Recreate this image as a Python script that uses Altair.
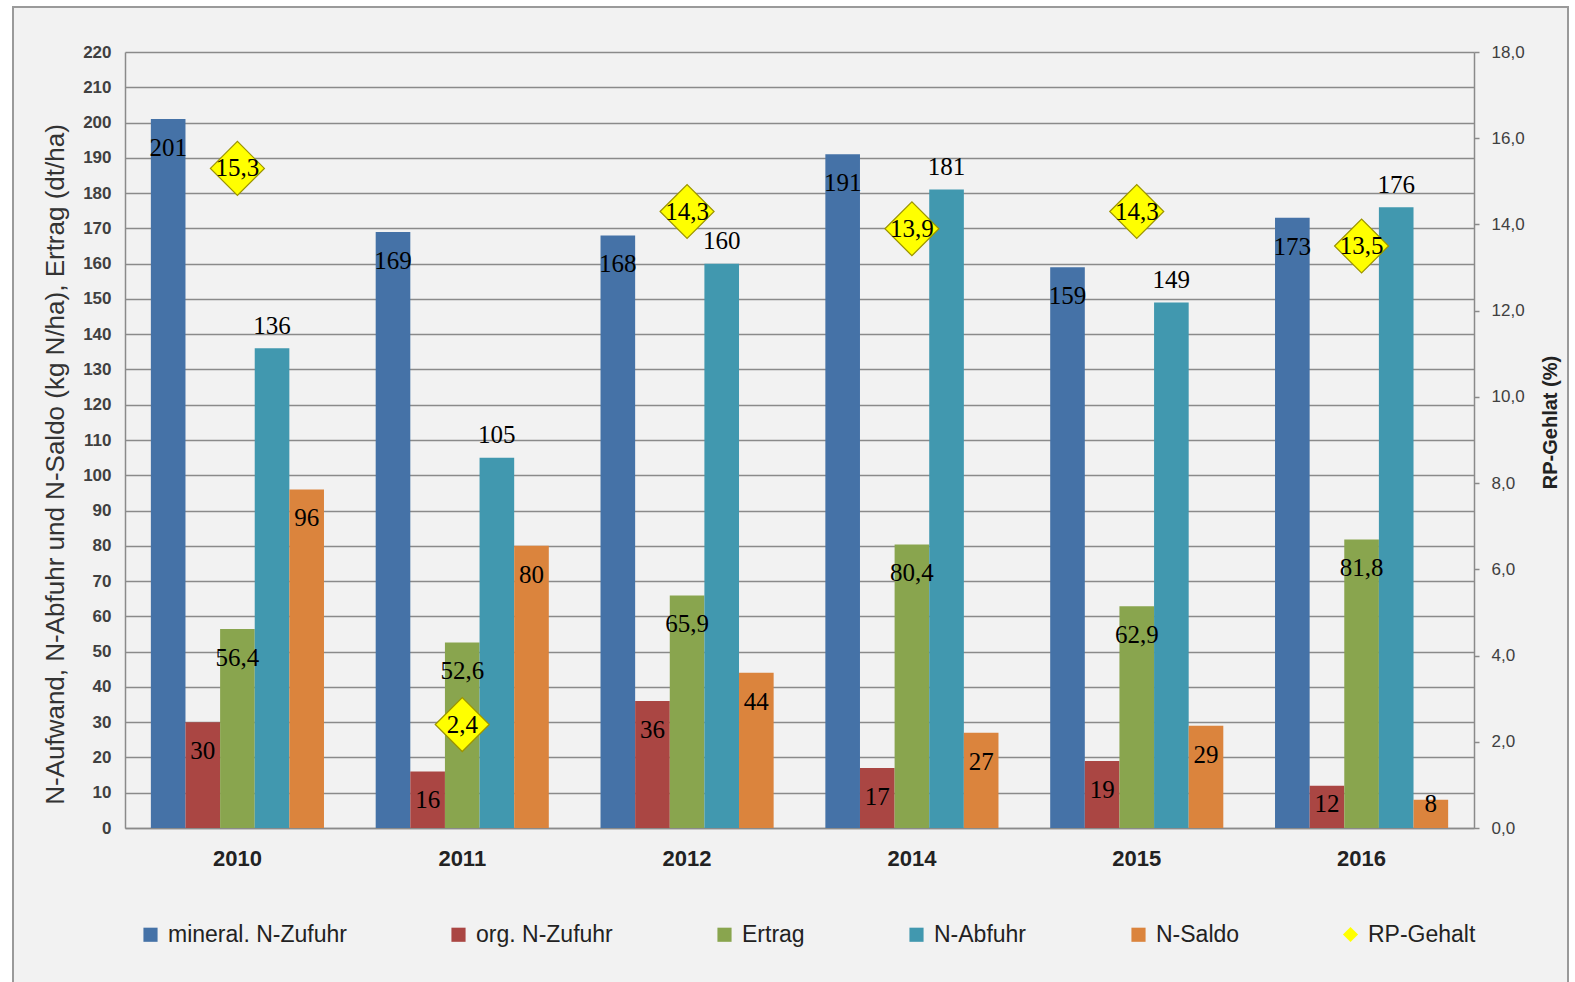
import altair as alt
import pandas as pd

years = ["2010", "2011", "2012", "2014", "2015", "2016"]
series = ["mineral. N-Zufuhr", "org. N-Zufuhr", "Ertrag", "N-Abfuhr", "N-Saldo"]
colors = ["#4572A7", "#AA4643", "#89A54E", "#4198AF", "#DB843D"]
mineral = [201, 169, 168, 191, 159, 173]
org = [30, 16, 36, 17, 19, 12]
ertrag = [56.4, 52.6, 65.9, 80.4, 62.9, 81.8]
abfuhr = [136, 105, 160, 181, 149, 176]
saldo = [96, 80, 44, 27, 29, 8]
rp = [15.3, 2.4, 14.3, 13.9, 14.3, 13.5]

left_ticks = list(range(0, 221, 10))
right_ticks = [0, 2, 4, 6, 8, 10, 12, 14, 16, 18]

rows = []
for s, vals in zip(series, [mineral, org, ertrag, abfuhr, saldo]):
    for y, v in zip(years, vals):
        rows.append({"year": y, "series": s, "value": v})
bars_df = pd.DataFrame(rows)
rp_df = pd.DataFrame({"year": years, "rp": rp, "lbl": ["RP-Gehalt"] * len(years)})

W, H = 1349, 776
GRID = "#8a8a8a"

xenc = alt.X("year:N", sort=years,
             scale=alt.Scale(paddingInner=0.23, paddingOuter=0.115),
             axis=alt.Axis(title=None, labelAngle=0, labelFont="Liberation Sans",
                           labelFontSize=22, labelFontWeight="bold", labelColor="#222222",
                           labelPadding=20, ticks=False, domainColor=GRID,
                           domainWidth=1.5, grid=False))
xoff = alt.XOffset("series:N", sort=series, scale=alt.Scale(paddingInner=0, paddingOuter=0))

left_scale = alt.Scale(domain=[0, 220], nice=False)
left_axis = alt.Axis(orient="left", values=left_ticks, grid=True, gridColor=GRID,
                     gridWidth=1.5, ticks=False, domainColor=GRID, domainWidth=1.5,
                     labelFont="Liberation Sans", labelFontSize=17, labelOverlap=False,
                     labelFontWeight="bold", labelColor="#404040", labelPadding=14,
                     title="N-Aufwand, N-Abfuhr und N-Saldo (kg N/ha), Ertrag (dt/ha)",
                     titleFont="Liberation Sans", titleFontSize=26,
                     titleFontWeight="normal", titleColor="#333333",
                     titleX=-70, titleY=412, titleAngle=270,
                     titleAlign="center", titleBaseline="middle")

# decorative white margins and outer chart border (background is the chart's gray)
margins = pd.DataFrame({
    "x0": [-125, -125, 1443], "x1": [1450, -112, 1450],
    "y0": [-52, -52, -52], "y1": [-45, 930, 930],
})
white = alt.Chart(margins).mark_rect(fill="white", strokeWidth=0).encode(
    x=alt.X("x0:Q", scale=None), x2="x1:Q",
    y=alt.Y("y0:Q", scale=None), y2="y1:Q")
frame = alt.Chart(pd.DataFrame({"k": [0]})).mark_rect(
    fill=None, filled=False, stroke="#9a9a9a", strokeWidth=2
).encode(x=alt.value(-112), x2=alt.value(1443), y=alt.value(-45), y2=alt.value(945))

bars = alt.Chart(bars_df).mark_bar().encode(
    x=xenc, xOffset=xoff,
    y=alt.Y("value:Q", scale=left_scale, axis=left_axis),
    color=alt.Color("series:N", sort=series,
                    scale=alt.Scale(domain=series, range=colors),
                    legend=alt.Legend(title=None, orient="none", direction="horizontal",
                                      columns=5, legendX=14, legendY=871,
                                      symbolType="square", symbolSize=200,
                                      symbolStrokeWidth=0, labelFont="Liberation Sans",
                                      labelFontSize=23, labelColor="#222222",
                                      labelLimit=400,
                                      labelOffset=6, columnPadding=100, padding=0))
)

labels = alt.Chart(bars_df).transform_calculate(
    txt="datum.series == 'Ertrag' ? replace(format(datum.value, '.1f'), '.', ',') : format(datum.value, 'd')",
    pos="datum.series == 'N-Abfuhr' ? datum.value + 6.3 : max(datum.value - 8.2, 6.8)"
).mark_text(font="Liberation Serif", fontSize=25, color="#000000", baseline="middle").encode(
    x=alt.X("year:N", sort=years), xOffset=alt.XOffset("series:N", sort=series),
    y=alt.Y("pos:Q", scale=left_scale, axis=left_axis), text="txt:N"
)

left = alt.layer(bars, labels)

right_scale = alt.Scale(domain=[0, 18], nice=False)
right_axis = alt.Axis(orient="right", values=right_ticks, grid=False,
                      ticks=True, tickSize=5, tickColor=GRID, tickWidth=1.5,
                      domainColor=GRID, domainWidth=1.5,
                      labelExpr="replace(format(datum.value, '.1f'), '.', ',')",
                      labelFont="Liberation Sans", labelFontSize=17,
                      labelColor="#404040", labelPadding=12,
                      title="RP-Gehlat (%)", titleFont="Liberation Sans",
                      titleFontSize=20, titleFontWeight="bold", titleColor="#222222",
                      titleX=76, titleY=370, titleAngle=270,
                      titleAlign="center", titleBaseline="middle")

points = alt.Chart(rp_df).mark_point(
    filled=True, fill="#ffff00", stroke="#9c9400", strokeWidth=1.2, size=2916, opacity=1
).encode(
    x=alt.X("year:N", sort=years),
    y=alt.Y("rp:Q", scale=right_scale, axis=right_axis),
    shape=alt.Shape("lbl:N", scale=alt.Scale(domain=["RP-Gehalt"], range=["diamond"]),
                    legend=alt.Legend(title=None, orient="none", legendX=1214, legendY=871,
                                      symbolSize=230, symbolFillColor="#ffff00",
                                      symbolStrokeColor="#9c9400", symbolStrokeWidth=1,
                                      labelFont="Liberation Sans", labelFontSize=23,
                                      labelColor="#222222", labelOffset=6, padding=0))
)

rp_labels = alt.Chart(rp_df).transform_calculate(
    txt="replace(format(datum.rp, '.1f'), '.', ',')"
).mark_text(font="Liberation Serif", fontSize=25, color="#000000", baseline="middle").encode(
    x=alt.X("year:N", sort=years),
    y=alt.Y("rp:Q", scale=right_scale, axis=right_axis), text="txt:N"
)

right = alt.layer(points, rp_labels)

chart = alt.layer(left, right, white, frame).resolve_scale(y="independent").properties(
    width=W, height=H, background="#f2f2f2",
    padding={"left": 125, "top": 52, "right": 101, "bottom": 154},
    autosize=alt.AutoSizeParams(type="none")
).configure_view(strokeWidth=0)

chart.save("out.html", embed_options={"renderer": "svg", "actions": False})
